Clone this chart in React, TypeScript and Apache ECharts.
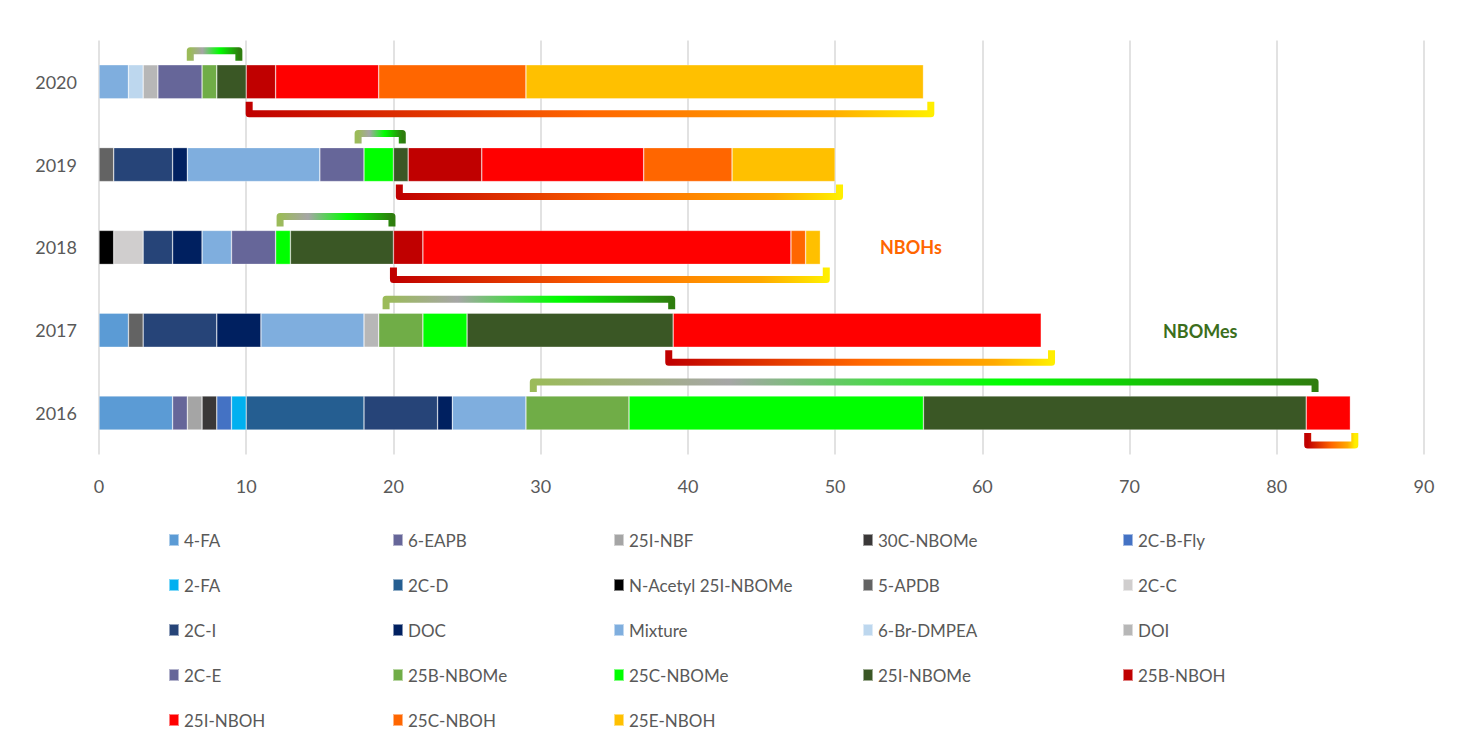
import React, { useEffect, useRef } from "react";
import * as echarts from "echarts";

// ---- data ----
const years = ["2016", "2017", "2018", "2019", "2020"];

const seriesNames = [
  "4-FA", "6-EAPB", "25I-NBF", "30C-NBOMe", "2C-B-Fly",
  "2-FA", "2C-D", "N-Acetyl 25I-NBOMe", "5-APDB", "2C-C",
  "2C-I", "DOC", "Mixture", "6-Br-DMPEA", "DOI",
  "2C-E", "25B-NBOMe", "25C-NBOMe", "25I-NBOMe", "25B-NBOH",
  "25I-NBOH", "25C-NBOH", "25E-NBOH",
];

const seriesColors = [
  "#5B9BD5", "#666699", "#A5A5A5", "#3A3838", "#4472C4",
  "#00B0F0", "#255E91", "#000000", "#636363", "#D0CECE",
  "#264478", "#002060", "#7FAEDE", "#BDD7EE", "#B7B7B7",
  "#666699", "#70AD47", "#00FF00", "#3A5725", "#C00000",
  "#FF0000", "#FF6600", "#FFC000",
];

// values per year: 2016, 2017, 2018, 2019, 2020
const v4FA = [5, 2, 0, 0, 0];
const v6EAPB = [1, 0, 0, 0, 0];
const v25INBF = [1, 0, 0, 0, 0];
const v30CNBOMe = [1, 0, 0, 0, 0];
const v2CBFly = [1, 0, 0, 0, 0];
const v2FA = [1, 0, 0, 0, 0];
const v2CD = [8, 0, 0, 0, 0];
const vNAcetyl = [0, 0, 1, 0, 0];
const v5APDB = [0, 1, 0, 1, 0];
const v2CC = [0, 0, 2, 0, 0];
const v2CI = [5, 5, 2, 4, 0];
const vDOC = [1, 3, 2, 1, 0];
const vMixture = [5, 7, 2, 9, 2];
const v6BrDMPEA = [0, 0, 0, 0, 1];
const vDOI = [0, 1, 0, 0, 1];
const v2CE = [0, 0, 3, 3, 3];
const v25BNBOMe = [7, 3, 0, 0, 1];
const v25CNBOMe = [20, 3, 1, 2, 0];
const v25INBOMe = [26, 14, 7, 1, 2];
const v25BNBOH = [0, 0, 2, 5, 2];
const v25INBOH = [3, 25, 25, 11, 7];
const v25CNBOH = [0, 0, 1, 6, 10];
const v25ENBOH = [0, 0, 1, 7, 27];

const seriesValues = [
  v4FA, v6EAPB, v25INBF, v30CNBOMe, v2CBFly,
  v2FA, v2CD, vNAcetyl, v5APDB, v2CC,
  v2CI, vDOC, vMixture, v6BrDMPEA, vDOI,
  v2CE, v25BNBOMe, v25CNBOMe, v25INBOMe, v25BNBOH,
  v25INBOH, v25CNBOH, v25ENBOH,
];

// bracket spans (axis values) per year
const nbomeStart = [29.5, 19.5, 12.3, 17.6, 6.2];
const nbomeEnd = [82.6, 38.9, 19.9, 20.6, 9.5];
const nbohStart = [82.1, 38.7, 20.0, 20.4, 10.2];
const nbohEnd = [85.3, 64.7, 49.4, 50.3, 56.5];

const xTicks = [0, 10, 20, 30, 40, 50, 60, 70, 80, 90];

const legendColumns = [
  ["4-FA", "2-FA", "2C-I", "2C-E", "25I-NBOH"],
  ["6-EAPB", "2C-D", "DOC", "25B-NBOMe", "25C-NBOH"],
  ["25I-NBF", "N-Acetyl 25I-NBOMe", "Mixture", "25C-NBOMe", "25E-NBOH"],
  ["30C-NBOMe", "5-APDB", "6-Br-DMPEA", "25I-NBOMe"],
  ["2C-B-Fly", "2C-C", "DOI", "25B-NBOH"],
];
const legendLefts = [168, 392, 613, 862, 1122];

const FONT = "Lato";
const TEXT_COLOR = "#595959";

const nbomeStops = [
  { offset: 0, color: "#9BBB59" },
  { offset: 0.25, color: "#A6A6A6" },
  { offset: 0.6, color: "#00FF00" },
  { offset: 1, color: "#2E7D0E" },
];
const nbohStops = [
  { offset: 0, color: "#C00000" },
  { offset: 0.5, color: "#FF6600" },
  { offset: 0.85, color: "#FFAA00" },
  { offset: 1, color: "#FFEE00" },
];

function bracketSeries(name: string, starts: number[], ends: number[], above: boolean, stops: any[]) {
  return {
    type: "custom",
    name,
    z: 5,
    encode: { x: [0, 1], y: 2 },
    data: years.map((_, i) => [starts[i], ends[i], i]),
    renderItem: (params: any, api: any) => {
      const s = api.coord([api.value(0), api.value(2)]);
      const e = api.coord([api.value(1), api.value(2)]);
      const cy = s[1];
      const lineY = above ? cy - 31 : cy + 32;
      const tickY = above ? cy - 21 : cy + 20;
      return {
        type: "polyline",
        shape: {
          points: [
            [s[0], tickY],
            [s[0], lineY],
            [e[0], lineY],
            [e[0], tickY],
          ],
        },
        style: {
          fill: null,
          stroke: new echarts.graphic.LinearGradient(0, 0, 1, 0, stops),
          lineWidth: 7,
          lineJoin: "round",
          lineCap: "butt",
        },
      };
    },
  };
}

export default function App() {
  const ref = useRef<HTMLDivElement>(null);

  useEffect(() => {
    document.body.style.margin = "0";
    if (!ref.current) return;
    const chart = echarts.init(ref.current, null, { renderer: "svg" });

    const barSeries = seriesNames.map((name, i) => ({
      type: "bar",
      name,
      stack: "total",
      barWidth: 34,
      itemStyle: {
        color: seriesColors[i],
        borderColor: "rgba(255,255,255,0.5)",
        borderWidth: 0.6,
      },
      data: seriesValues[i].map((v) => (v === 0 ? "-" : v)),
    }));

    const legends = legendColumns.map((col, ci) => ({
      data: col,
      orient: "vertical",
      left: legendLefts[ci],
      top: 530,
      padding: 0,
      itemWidth: 10,
      itemHeight: 12,
      itemGap: 25,
      icon: "rect",
      selectedMode: false,
      textStyle: {
        fontFamily: FONT,
        fontSize: 17,
        color: TEXT_COLOR,
        lineHeight: 20,
      },
    }));

    chart.setOption({
      animation: false,
      backgroundColor: "#ffffff",
      textStyle: { fontFamily: FONT },
      grid: { left: 99, right: 35, top: 40.4, bottom: 292.6, containLabel: false },
      legend: legends,
      xAxis: {
        type: "value",
        min: xTicks[0],
        max: xTicks[xTicks.length - 1],
        interval: 10,
        axisLine: { show: false },
        axisTick: { show: false },
        splitLine: { lineStyle: { color: "#D9D9D9", width: 1.5 } },
        axisLabel: { fontFamily: FONT, fontSize: 18, color: TEXT_COLOR, margin: 23 },
      },
      yAxis: {
        type: "category",
        data: years,
        axisLine: { show: false },
        axisTick: { show: false },
        axisLabel: { fontFamily: FONT, fontSize: 18, color: TEXT_COLOR, margin: 22 },
      },
      series: [
        ...barSeries,
        bracketSeries("NBOMe bracket", nbomeStart, nbomeEnd, true, nbomeStops),
        bracketSeries("NBOH bracket", nbohStart, nbohEnd, false, nbohStops),
      ],
      graphic: [
        {
          type: "text",
          left: 880,
          top: 238,
          style: { text: "NBOHs", fill: "#FF6600", font: `bold 18px ${FONT}` },
        },
        {
          type: "text",
          left: 1163,
          top: 322,
          style: { text: "NBOMes", fill: "#3B6E1C", font: `bold 18px ${FONT}` },
        },
      ],
    });

    return () => chart.dispose();
  }, []);

  return (
    <div
      style={{
        width: 1459,
        height: 747,
        boxSizing: "border-box",
        border: "1px solid #D9D9D9",
        position: "relative",
      }}
    >
      <div ref={ref} style={{ position: "absolute", left: -1, top: -1, width: 1459, height: 747 }} />
    </div>
  );
}
